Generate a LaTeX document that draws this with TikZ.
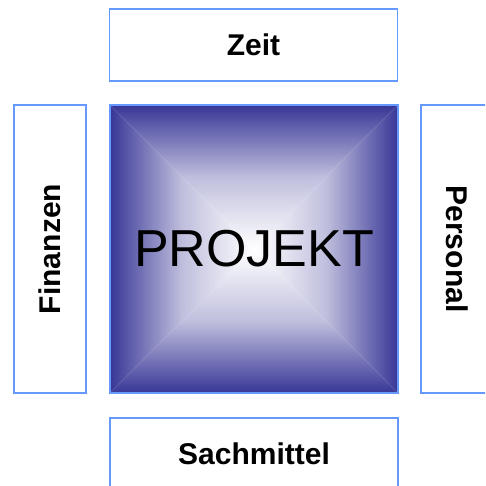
\documentclass[tikz,border=0pt]{standalone}
\usepackage{fontspec}
\setmainfont{Liberation Sans}
\definecolor{rahmen}{RGB}{102,153,255}
\definecolor{tiefblau}{RGB}{56,54,150}
\colorlet{mittelblau}{tiefblau!32!white}
\begin{document}
\begin{tikzpicture}[x=1pt,y=-1pt,line join=miter,
	feld/.style={draw=rahmen,line width=1.6pt,minimum width=288pt,minimum height=72pt,inner sep=0pt,font=\bfseries\fontsize{30}{36}\selectfont},
	oben/.style={top color=tiefblau,bottom color=white,middle color=mittelblau},
	unten/.style={bottom color=tiefblau,top color=white,middle color=mittelblau},
	links/.style={left color=tiefblau,right color=white,middle color=mittelblau},
	rechts/.style={right color=tiefblau,left color=white,middle color=mittelblau}]
			\def \xl{110};
			\def \xr{398};
			\def \yo{105};
			\def \yu{393};
			\useasboundingbox (0,0) rectangle (485,486);
			\clip (0,0) rectangle (485,486);
			\coordinate (M) at (254,249);
			\foreach \ax/\ay/\bx/\by/\s in {\xl/\yo/\xr/\yo/oben,\xr/\yo/\xr/\yu/rechts,\xr/\yu/\xl/\yu/unten,\xl/\yu/\xl/\yo/links}{\shade[\s] (\ax,\ay) -- (\bx,\by) -- (M) -- cycle;}
			\node[draw=rahmen,line width=1.6pt,minimum size=288pt,inner sep=0pt,font=\fontsize{52}{60}\selectfont] (projekt) at (M) {PROJEKT};
			\node[feld] (zeit) at (253.5,45) {Zeit};
			\node[feld,rotate=90] (finanzen) at (50,249) {Finanzen};
			\node[feld,rotate=-90] (personal) at (457,249) {Personal};
			\node[feld] (sachmittel) at (254,454) {Sachmittel};
	\end{tikzpicture}
\end{document}
